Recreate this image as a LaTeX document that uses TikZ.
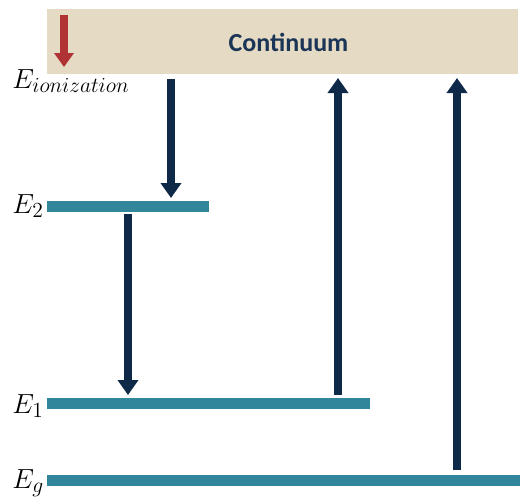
\documentclass[tikz,border=0pt]{standalone}
\usepackage{fontspec}
\usepackage{graphicx}
\newfontfamily\calib{Carlito}
\usetikzlibrary{arrows.meta}
\definecolor{sand}{HTML}{E5DAC3}
\definecolor{levelteal}{HTML}{31869B}
\definecolor{navy}{HTML}{0F2A48}
\definecolor{textnavy}{HTML}{1B3556}
\definecolor{brick}{HTML}{B03232}
\newcommand{\bigsub}[1]{\scalebox{1.12}{$\scriptstyle #1$}}
\tikzset{
  level/.style={fill=levelteal, draw=none, inner sep=0pt, minimum height=11pt, anchor=west},
  transition/.style={draw=navy, line width=7.5pt,
    -{Triangle[width=20pt,length=15pt]}},
  elabel/.style={anchor=base west, inner sep=0pt, font=\LARGE, scale=1.6},
}
\begin{document}
\begin{tikzpicture}[x=1pt,y=-1pt]
  \useasboundingbox (0,0) rectangle (520,499);
  % continuum band
  \node[fill=sand, inner sep=0pt, minimum width=471pt, minimum height=65pt, anchor=north west]
    (cont) at (47,9) {};
  \node[text=textnavy, font=\calib\bfseries\fontsize{26}{30}\selectfont] (conttext) at (288.5,42) {Continuum};
  % ionization marker
  \coordinate (rtop) at (64,15);
  \coordinate (rtip) at (64,67);
  \draw[draw=brick, line width=7.5pt, -{Triangle[width=19pt,length=14pt]}] (rtop) -- (rtip);
  % energy levels
  \node[level, minimum width=162pt] (e2) at (47,206) {};
  \node[level, minimum width=323pt] (e1) at (47,403) {};
  \node[level, minimum width=473pt] (eg) at (47,480) {};
  % labels
  \node[elabel] (lion) at (12,88) {$E_{\bigsub{ionization}}$};
  \node[elabel] (l2) at (12,213) {$E_{\bigsub{2}}$};
  \node[elabel] (l1) at (12,413) {$E_{\bigsub{1}}$};
  \node[elabel] (lg) at (12,488) {$E_{\bigsub{g}}$};
  % transitions
  \coordinate (a1) at (171,79);
  \coordinate (a2) at (128,214);
  \coordinate (a3) at (338,395);
  \coordinate (a4) at (457,470);
  \draw[transition] (a1) -- (a1 |- 0,198);
  \draw[transition] (a2) -- (a2 |- 0,395);
  \draw[transition] (a3) -- (a3 |- 0,78);
  \draw[transition] (a4) -- (a4 |- 0,78);
\end{tikzpicture}
\end{document}
